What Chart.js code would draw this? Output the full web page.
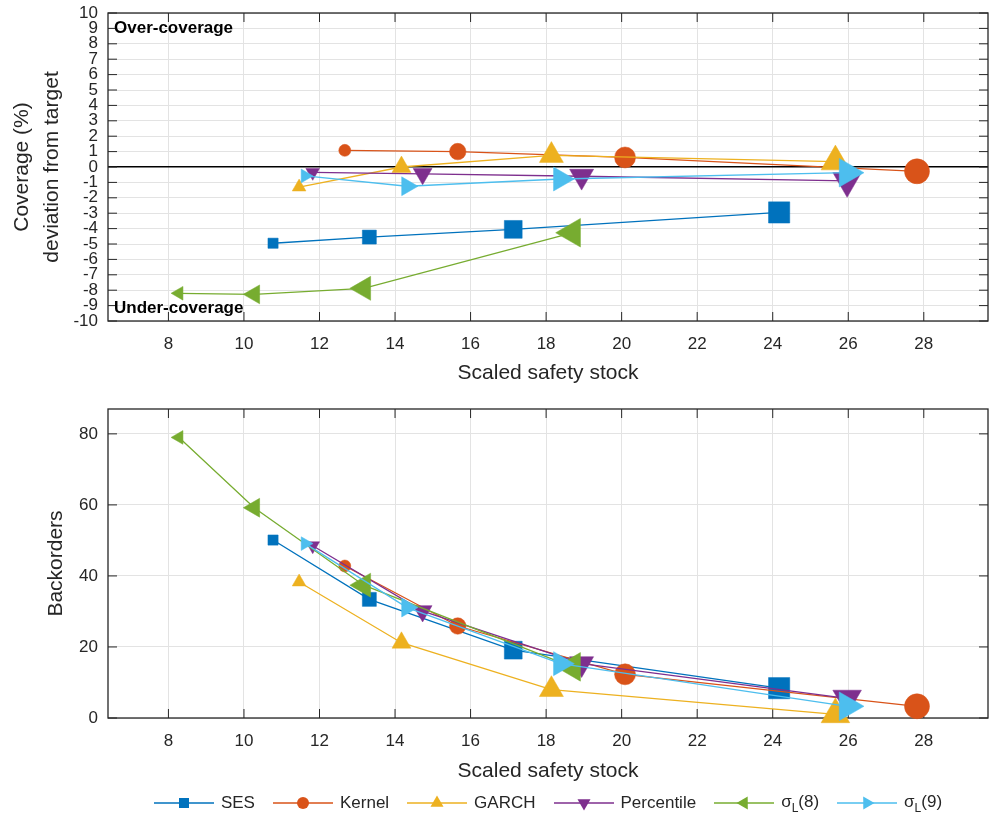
<!DOCTYPE html>
<html>
<head>
<meta charset="utf-8">
<script src="https://cdn.jsdelivr.net/npm/chart.js@4.4.1/dist/chart.umd.min.js"></script>
<style>
  body { margin: 0; background: #fff; width: 989px; height: 823px; position: relative; overflow: hidden;
         font-family: "Liberation Sans", Arial, sans-serif; }
  #top { position: absolute; left: 0; top: 0; }
  #bottom { position: absolute; left: 0; top: 390px; }
  #legend { position: absolute; left: 108px; top: 789px; width: 880px; height: 28px; display: flex;
            justify-content: center; align-items: center; font-size: 17px; color: #262626; }
  .item { display: flex; align-items: center; margin: 0 9px; white-space: nowrap; }
  .item span { margin-left: 7px; }
  sub { font-size: 12px; vertical-align: -5px; }
</style>
</head>
<body>
<canvas id="top" width="989" height="390"></canvas>
<canvas id="bottom" width="989" height="400"></canvas>
<div id="legend"></div>
<script>
// series names
const names = ['SES', 'Kernel', 'GARCH', 'Percentile', 'σ<sub>L</sub>(8)', 'σ<sub>L</sub>(9)'];

// scaled safety stock (x), same for both panels
const sesX    = [10.77, 13.32, 17.13, 24.17];
const kernelX = [12.67, 15.66, 20.09, 27.82];
const garchX  = [11.46, 14.17, 18.14, 25.66];
const pctX    = [11.82, 14.73, 18.94, 25.97];
const sig8X   = [8.28, 10.27, 13.17, 18.69];
const sig9X   = [11.62, 14.32, 18.38, 25.98];

// coverage deviation from target (%)
const sesCov    = [-4.95, -4.55, -4.05, -2.95];
const kernelCov = [1.08, 1.0, 0.62, -0.28];
const garchCov  = [-1.3, 0.0, 0.75, 0.35];
const pctCov    = [-0.35, -0.45, -0.6, -0.9];
const sig8Cov   = [-8.2, -8.27, -7.88, -4.27];
const sig9Cov   = [-0.58, -1.25, -0.78, -0.37];

// backorders
const sesBack    = [50.1, 33.4, 19.1, 8.4];
const kernelBack = [42.8, 25.9, 12.3, 3.3];
const garchBack  = [38.3, 21.2, 8.0, 1.0];
const pctBack    = [48.5, 30.1, 15.3, 5.5];
const sig8Back   = [79.0, 59.2, 37.4, 14.4];
const sig9Back   = [49.1, 31.1, 15.3, 3.3];

// ticks
const xTicks = [8, 10, 12, 14, 16, 18, 20, 22, 24, 26, 28];
const covTicks = [-10, -9, -8, -7, -6, -5, -4, -3, -2, -1, 0, 1, 2, 3, 4, 5, 6, 7, 8, 9, 10];
const backTicks = [0, 20, 40, 60, 80];

const colors = ['#0072BD', '#D95319', '#EDB120', '#7E2F8E', '#77AC30', '#4DBEEE'];
const markerSize = [12, 16.5, 21, 25];   // grows along each series
const shapes = [
  { style: 'rect', rot: 0, k: 0.6 },
  { style: 'circle', rot: 0, k: 0.5 },
  { style: 'triangle', rot: 0, k: 0.66 },
  { style: 'triangle', rot: 180, k: 0.66 },
  { style: 'triangle', rot: 270, k: 0.66 },
  { style: 'triangle', rot: 90, k: 0.66 }
];
const xs = [sesX, kernelX, garchX, pctX, sig8X, sig9X];
const covs = [sesCov, kernelCov, garchCov, pctCov, sig8Cov, sig9Cov];
const backs = [sesBack, kernelBack, garchBack, pctBack, sig8Back, sig9Back];

const ink = '#262626';
const font = 'Liberation Sans, Arial, sans-serif';

function datasets(ys) {
  return ys.map((y, i) => ({
    label: names[i],
    data: xs[i].map((x, j) => ({ x, y: y[j] })),
    borderColor: colors[i],
    backgroundColor: colors[i],
    borderWidth: 1.3,
    pointStyle: shapes[i].style,
    pointRotation: shapes[i].rot,
    pointRadius: c => markerSize[c.dataIndex] * shapes[i].k,
    pointBorderWidth: 0.5,
    pointBackgroundColor: colors[i],
    pointBorderColor: colors[i],
    order: 6 - i,
    clip: false
  }));
}

// box + inward tick marks, MATLAB style
const frame = {
  id: 'frame',
  beforeDatasetsDraw(chart) {
    const { ctx, chartArea: a, scales } = chart;
    ctx.save();
    ctx.strokeStyle = ink;
    ctx.lineWidth = 1.3;
    ctx.strokeRect(a.left, a.top, a.right - a.left, a.bottom - a.top);
    ctx.lineWidth = 1;
    ctx.beginPath();
    scales.x.ticks.forEach(t => {
      const px = scales.x.getPixelForValue(t.value);
      ctx.moveTo(px, a.bottom); ctx.lineTo(px, a.bottom - 9);
      ctx.moveTo(px, a.top); ctx.lineTo(px, a.top + 9);
    });
    scales.y.ticks.forEach(t => {
      const py = scales.y.getPixelForValue(t.value);
      ctx.moveTo(a.left, py); ctx.lineTo(a.left + 9, py);
      ctx.moveTo(a.right, py); ctx.lineTo(a.right - 9, py);
    });
    ctx.stroke();
    ctx.restore();
  }
};

const notes = {
  id: 'notes',
  afterDatasetsDraw(chart) {
    const { ctx, chartArea: a } = chart;
    ctx.save();
    ctx.font = 'bold 17px ' + font;
    ctx.fillStyle = '#000';
    ctx.textBaseline = 'middle';
    ctx.fillText('Over-coverage', a.left + 6, a.top + 15);
    ctx.fillText('Under-coverage', a.left + 6, a.bottom - 13);
    ctx.restore();
  }
};

function xScale(axisH, titlePad) {
  return {
    type: 'linear', min: 6.4, max: 29.7,
    afterBuildTicks: s => { s.ticks = xTicks.map(v => ({ value: v })); },
    afterFit: s => { s.height = axisH; s.paddingLeft = 0; s.paddingRight = 0; },
    grid: { color: '#e3e3e3', drawTicks: false },
    border: { display: false },
    ticks: { color: ink, font: { size: 17, family: font }, padding: 13, maxRotation: 0 },
    title: { display: true, text: 'Scaled safety stock', color: ink,
             font: { size: 21, family: font }, padding: { top: 0, bottom: titlePad } }
  };
}

function yFit(s) { s.width = 108; s.paddingTop = 0; s.paddingBottom = 0; }

new Chart(document.getElementById('top'), {
  type: 'line',
  data: { datasets: datasets(covs) },
  options: {
    responsive: false, animation: false,
    layout: { autoPadding: false, padding: { top: 13, right: 1, left: 0, bottom: 0 } },
    plugins: { legend: { display: false }, tooltip: { enabled: false } },
    scales: {
      x: xScale(69, 4),
      y: {
        min: -10, max: 10,
        afterBuildTicks: s => { s.ticks = covTicks.map(v => ({ value: v })); },
        afterFit: yFit,
        grid: { color: c => c.tick.value === 0 ? '#000' : '#e3e3e3',
                lineWidth: c => c.tick.value === 0 ? 1.5 : 1, drawTicks: false },
        border: { display: false },
        ticks: { color: ink, font: { size: 17, family: font }, padding: 10, autoSkip: false },
        title: { display: true, text: ['Coverage (%)', 'deviation from target'], color: ink,
                 font: { size: 21, family: font, lineHeight: 1.45 }, padding: { top: 7, bottom: 0 } }
      }
    }
  },
  plugins: [frame, notes]
});

new Chart(document.getElementById('bottom'), {
  type: 'line',
  data: { datasets: datasets(backs) },
  options: {
    responsive: false, animation: false,
    layout: { autoPadding: false, padding: { top: 19, right: 1, left: 0, bottom: 0 } },
    plugins: { legend: { display: false }, tooltip: { enabled: false } },
    scales: {
      x: xScale(72, 6),
      y: {
        min: 0, max: 87,
        afterBuildTicks: s => { s.ticks = backTicks.map(v => ({ value: v })); },
        afterFit: yFit,
        grid: { color: '#e3e3e3', drawTicks: false },
        border: { display: false },
        ticks: { color: ink, font: { size: 17, family: font }, padding: 10 },
        title: { display: true, text: 'Backorders', color: ink,
                 font: { size: 21, family: font }, padding: { top: 44, bottom: 0 } }
      }
    }
  },
  plugins: [frame]
});

// legend: line with marker + label
function markerSvg(i) {
  const c = colors[i], cx = 30, cy = 9;
  let m;
  if (i === 0) m = `<rect x="${cx - 5}" y="${cy - 5}" width="10" height="10" fill="${c}"/>`;
  else if (i === 1) m = `<circle cx="${cx}" cy="${cy}" r="6" fill="${c}"/>`;
  else {
    const r = 7.5;
    const rot = shapes[i].rot * Math.PI / 180;
    const pts = [0, 1, 2].map(k => {
      const a = rot + k * 2 * Math.PI / 3;
      return (cx + Math.sin(a) * r).toFixed(1) + ',' + (cy - Math.cos(a) * r).toFixed(1);
    }).join(' ');
    m = `<polygon points="${pts}" fill="${c}"/>`;
  }
  return `<svg width="60" height="18"><line x1="0" y1="${cy}" x2="60" y2="${cy}" stroke="${c}" stroke-width="1.5"/>${m}</svg>`;
}
document.getElementById('legend').innerHTML = names
  .map((n, i) => `<div class="item">${markerSvg(i)}<span>${n}</span></div>`).join('');
</script>
</body>
</html>
